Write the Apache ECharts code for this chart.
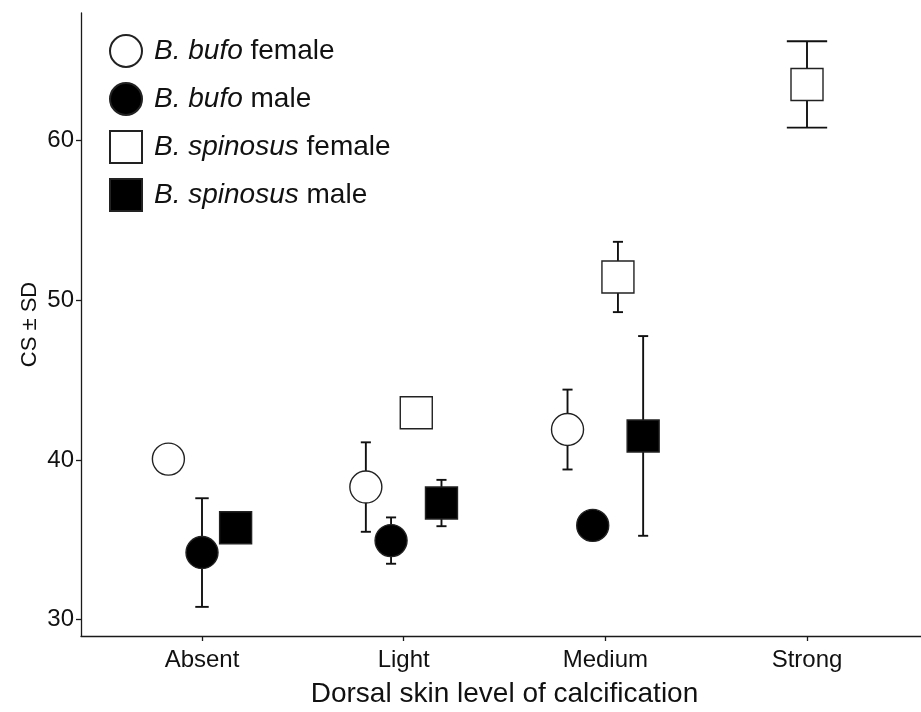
<!DOCTYPE html>
<html>
<head>
<meta charset="utf-8">
<script src="https://cdn.jsdelivr.net/npm/echarts@6/dist/echarts.min.js"></script>
<style>
html,body{margin:0;padding:0;background:#fff;}
#chart{width:921px;height:712px;}
</style>
</head>
<body>
<div id="chart"></div>
<script>
// ---- data ----
var categories = ['Absent', 'Light', 'Medium', 'Strong'];
var groupNames = ['B. bufo female', 'B. bufo male', 'B. spinosus female', 'B. spinosus male'];
var bufoFemaleMean     = [40.05, 38.3, 41.9, null];
var bufoFemaleSD       = [null, 2.8, 2.5, null];
var bufoMaleMean       = [34.2, 34.95, 35.9, null];
var bufoMaleSD         = [3.4, 1.45, null, null];
var spinosusFemaleMean = [null, 42.95, 51.45, 63.5];
var spinosusFemaleSD   = [null, null, 2.2, 2.7];
var spinosusMaleMean   = [35.75, 37.3, 41.5, null];
var spinosusMaleSD     = [null, 1.45, 6.25, null];
var yTicks = [30, 40, 50, 60];
var xTicks = [1, 2, 3, 4];

var means = [bufoFemaleMean, bufoMaleMean, spinosusFemaleMean, spinosusMaleMean];
var sds = [bufoFemaleSD, bufoMaleSD, spinosusFemaleSD, spinosusMaleSD];
var symbols = ['circle', 'circle', 'rect', 'rect'];
var fills = ['#ffffff', '#000000', '#ffffff', '#000000'];

var dodgeWidth = 0.5, errWidth = 0.2;

// dodge positions (like ggplot position_dodge)
var pointData = [[], [], [], []];
var errData = [];
for (var c = 0; c < categories.length; c++) {
  var present = [];
  for (var g = 0; g < 4; g++) if (means[g][c] != null) present.push(g);
  var n = present.length;
  present.forEach(function (g, i) {
    var x = (c + 1) - dodgeWidth / 2 + dodgeWidth / (2 * n) + i * dodgeWidth / n;
    pointData[g].push([x, means[g][c]]);
    var sd = sds[g][c];
    if (sd != null) errData.push([x, means[g][c] - sd, means[g][c] + sd, errWidth / n]);
  });
}

var yMin = 30.75, yMax = 66.2; // data extent incl. error bars
var pad = (yMax - yMin) * 0.05;
var FONT = 'Liberation Sans, Arial, sans-serif';

var series = [{
  type: 'custom',
  name: 'errorbars',
  data: errData,
  z: 1,
  silent: true,
  renderItem: function (params, api) {
    var x = api.value(0), lo = api.value(1), hi = api.value(2), w = api.value(3);
    var pLo = api.coord([x, lo]), pHi = api.coord([x, hi]);
    var half = api.size([w, 0])[0] / 2;
    var st = {stroke: '#111', lineWidth: 1.9, fill: null};
    return {
      type: 'group',
      children: [
        {type: 'line', shape: {x1: pLo[0], y1: pLo[1], x2: pHi[0], y2: pHi[1]}, style: st},
        {type: 'line', shape: {x1: pLo[0] - half, y1: pLo[1], x2: pLo[0] + half, y2: pLo[1]}, style: st},
        {type: 'line', shape: {x1: pHi[0] - half, y1: pHi[1], x2: pHi[0] + half, y2: pHi[1]}, style: st}
      ]
    };
  }
}];
for (var g = 0; g < 4; g++) {
  series.push({
    type: 'scatter',
    name: groupNames[g],
    data: pointData[g],
    symbol: symbols[g],
    symbolSize: 32,
    z: 3,
    itemStyle: {color: fills[g], borderColor: '#222', borderWidth: 1.4, opacity: 1},
    emphasis: {disabled: true}
  });
}

var chart = echarts.init(document.getElementById('chart'), null, {renderer: 'canvas'});
chart.setOption({
  animation: false,
  backgroundColor: '#ffffff',
  textStyle: {fontFamily: FONT},
  grid: {left: 81, right: -7, top: 13, bottom: 76, containLabel: false, outerBoundsMode: 'none'},
  legend: {
    data: groupNames.map(function (n, i) { return {name: n, icon: symbols[i]}; }),
    orient: 'vertical',
    left: 109, top: 34, padding: 0,
    itemWidth: 32, itemHeight: 32, itemGap: 14,
    selectedMode: false,
    formatter: function (name) {
      var parts = name.split(' ');
      return '{i|' + parts[0] + ' ' + parts[1] + '} ' + parts.slice(2).join(' ');
    },
    textStyle: {
      fontSize: 28, color: '#111', fontFamily: FONT, lineHeight: 32, padding: [0, 0, 0, 7],
      rich: {i: {fontSize: 28, lineHeight: 32, fontStyle: 'italic', color: '#111', fontFamily: FONT}}
    }
  },
  xAxis: {
    type: 'value',
    min: 0.4, max: 4.6,
    name: 'Dorsal skin level of calcification',
    nameLocation: 'middle', nameGap: 44, nameMoveOverlap: false,
    nameTextStyle: {fontSize: 28, color: '#111'},
    axisLine: {show: true, lineStyle: {color: '#1a1a1a', width: 1.3}},
    axisTick: {show: true, length: 5, customValues: xTicks, lineStyle: {color: '#1a1a1a', width: 1.3}},
    axisLabel: {customValues: xTicks, fontSize: 24, color: '#111', margin: 12,
      formatter: function (v) { return categories[Math.round(v) - 1] || ''; }},
    splitLine: {show: false}
  },
  yAxis: {
    type: 'value',
    min: yMin - pad, max: yMax + pad,
    name: 'CS ± SD',
    nameLocation: 'middle', nameGap: 40, nameMoveOverlap: false,
    nameTextStyle: {fontSize: 22, color: '#111'},
    axisLine: {show: true, lineStyle: {color: '#1a1a1a', width: 1.3}},
    axisTick: {show: true, length: 5, customValues: yTicks, lineStyle: {color: '#1a1a1a', width: 1.3}},
    axisLabel: {customValues: yTicks, fontSize: 24, color: '#111', margin: 7},
    splitLine: {show: false}
  },
  series: series
});
</script>
</body>
</html>
